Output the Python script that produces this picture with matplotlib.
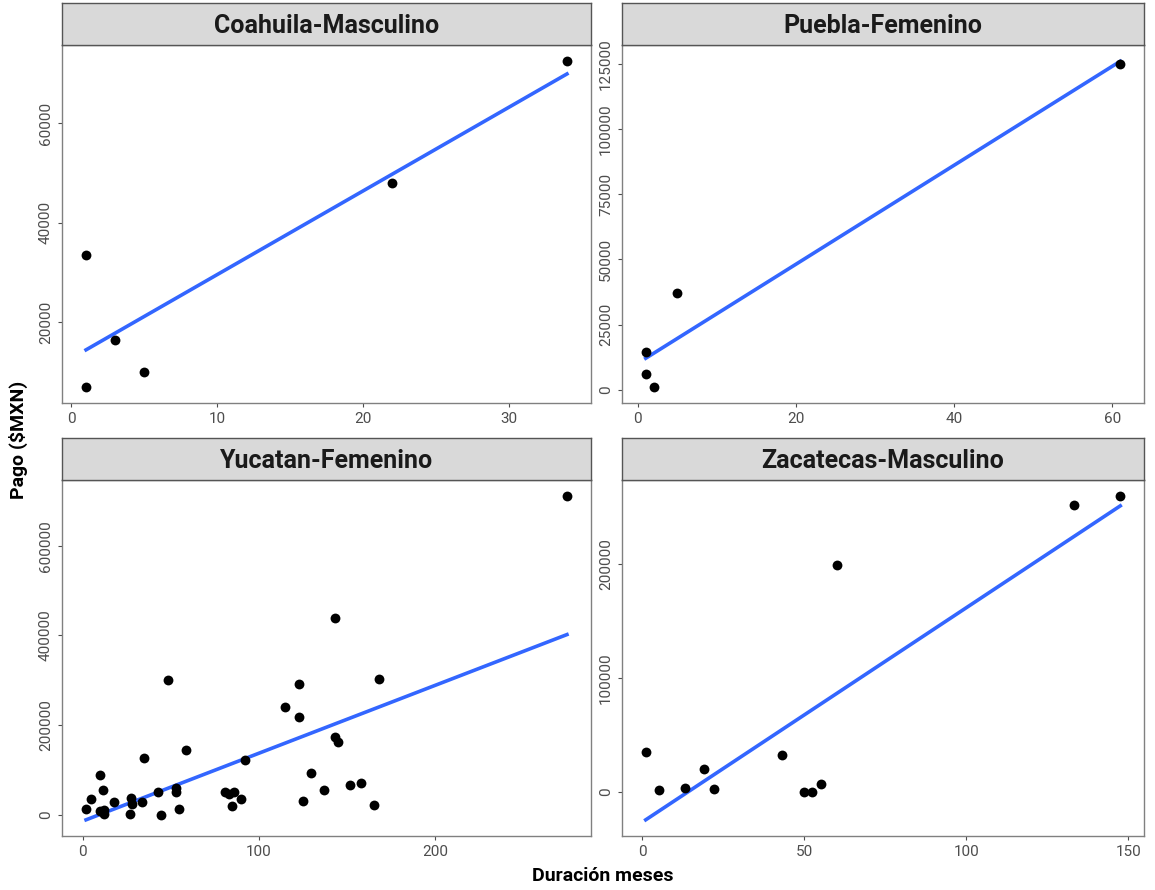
import numpy as np
import matplotlib
matplotlib.use('Agg')
import matplotlib.pyplot as plt

plt.rcParams['font.family'] = ['Liberation Sans Narrow', 'Roboto', 'DejaVu Sans']

# datos
coah_x = [1, 1, 3, 5, 22, 34]
coah_y = [33500, 7000, 16500, 10000, 48000, 72500]

pueb_x = [1, 1, 2, 5, 61]
pueb_y = [14700, 6000, 1200, 37000, 125000]

yuc_x = [2, 4.9, 9.8, 11.7, 10, 12, 12, 17.6, 27.4, 27.8, 26.8, 33.9, 34.6, 42.9, 44.6,
         48.7, 52.8, 52.8, 54.8, 58.7, 80.6, 82.8, 85.7, 84.7, 89.6, 92, 114.7, 122.7,
         122.7, 124.9, 129.7, 136.8, 142.9, 142.9, 144.8, 151.7, 157.9, 165, 167.9, 274.6]
yuc_y = [12600, 36300, 88900, 55600, 8000, 12000, 1500, 29600, 38500, 23700, 3000, 28900,
         126700, 51100, 700, 300000, 60700, 51800, 12600, 143700, 51100, 45900, 51100,
         20000, 36300, 122200, 240700, 291800, 217800, 31900, 94100, 55600, 439200,
         174100, 163000, 67400, 71100, 22200, 303000, 710300]

zac_x = [1, 5, 13.1, 19.1, 22.1, 43.1, 49.9, 52.2, 55.1, 60.2, 133.3, 147.5]
zac_y = [35000, 1500, 3800, 20400, 2900, 32700, 300, 300, 7300, 199100, 252200, 259500]

paneles = [
    ('Coahuila-Masculino', coah_x, coah_y, [0, 10, 20, 30], [20000, 40000, 60000]),
    ('Puebla-Femenino', pueb_x, pueb_y, [0, 20, 40, 60], [0, 25000, 50000, 75000, 100000, 125000]),
    ('Yucatan-Femenino', yuc_x, yuc_y, [0, 100, 200], [0, 200000, 400000, 600000]),
    ('Zacatecas-Masculino', zac_x, zac_y, [0, 50, 100, 150], [0, 100000, 200000]),
]

W, H = 1155, 890
fig = plt.figure(figsize=(W / 100, H / 100), dpi=100)

# posiciones en pixeles (izq, der, arriba, abajo)
pos = [(62, 591, 45, 403), (622, 1144, 45, 403),
       (62, 591, 480, 836), (622, 1144, 480, 836)]
strip_h = 42
gris = '#4D4D4D'

for (titulo, x, y, xt, yt), (l, r, t, b) in zip(paneles, pos):
    ax = fig.add_axes([l / W, 1 - b / H, (r - l) / W, (b - t) / H])
    x = np.array(x, dtype=float)
    y = np.array(y, dtype=float)
    ax.scatter(x, y, s=50, color='black', zorder=3, linewidths=0)
    m, c = np.polyfit(x, y, 1)
    xs = np.array([x.min(), x.max()])
    ax.plot(xs, m * xs + c, color='#3366FF', lw=2.6, zorder=2)
    ax.margins(0.05)
    ax.set_xticks(xt)
    ax.set_yticks(yt)
    ax.set_yticklabels([str(v) for v in yt], rotation=90, va='center')
    ax.tick_params(colors=gris, labelcolor=gris, labelsize=11, length=3, width=0.8)
    for s in ax.spines.values():
        s.set_color('#808080')
        s.set_linewidth(1)
    # franja del titulo
    sax = fig.add_axes([l / W, 1 - t / H, (r - l) / W, strip_h / H])
    sax.set_facecolor('#D9D9D9')
    sax.set_xticks([])
    sax.set_yticks([])
    for s in sax.spines.values():
        s.set_color('#555555')
        s.set_linewidth(1)
    sax.text(0.5, 0.45, titulo, ha='center', va='center', fontsize=18,
             fontweight='bold', color='#1A1A1A', transform=sax.transAxes)

fig.text(603 / W, 1 - 876 / H, 'Duración meses', ha='center', va='center',
         fontsize=14, fontweight='bold')
fig.text(18 / W, 1 - 440 / H, 'Pago ($MXN)', ha='center', va='center',
         rotation=90, fontsize=14, fontweight='bold')

plt.savefig('out.png', dpi=100)
